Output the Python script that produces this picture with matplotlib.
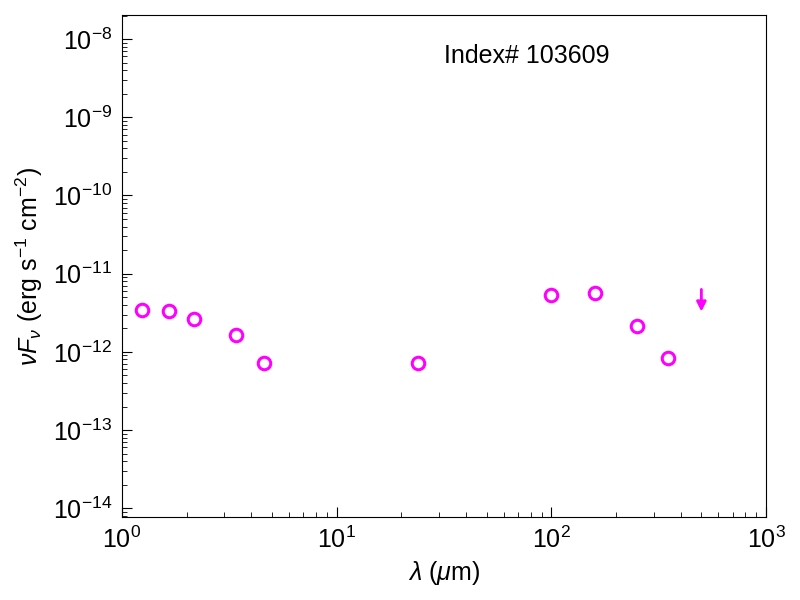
import numpy as np
import matplotlib
matplotlib.use("Agg")
import matplotlib.pyplot as plt
from matplotlib.ticker import LogLocator, NullFormatter

plt.rcParams["font.family"] = ["Liberation Sans", "DejaVu Sans"]
plt.rcParams["mathtext.fontset"] = "custom"
plt.rcParams["mathtext.rm"] = "Liberation Sans"
plt.rcParams["mathtext.it"] = "Liberation Sans:italic"
plt.rcParams["mathtext.bf"] = "Liberation Sans:bold"

# photometry (detections)
wave = [1.235, 1.662, 2.159, 3.4, 4.6, 24.0, 100.0, 160.0, 250.0, 350.0]
nufnu = [3.4e-12, 3.35e-12, 2.6e-12, 1.65e-12, 7.2e-13, 7.3e-13,
         5.4e-12, 5.7e-12, 2.15e-12, 8.3e-13]

# upper limit
wave_ul = [500.0]
nufnu_ul = [6.3e-12]

fig = plt.figure(figsize=(8, 6), dpi=100)
ax = fig.add_axes([0.1525, 0.138, 0.805, 0.837])

ax.plot(wave, nufnu, "o", mfc="none", mec="magenta", ms=9, mew=2.2)
for x, y in zip(wave_ul, nufnu_ul):
    ax.annotate("", xy=(x, y * 0.52), xytext=(x, y),
                arrowprops=dict(arrowstyle="-|>", color="magenta", lw=2,
                                mutation_scale=14, shrinkA=0, shrinkB=0))

ax.set_xscale("log")
ax.set_yscale("log")
ax.set_xlim(1, 1000)
ax.set_ylim(7.7e-15, 2.03e-8)
for axis in (ax.xaxis, ax.yaxis):
    axis.set_major_locator(LogLocator(base=10, numticks=20))
    axis.set_minor_locator(LogLocator(base=10, subs=np.arange(2, 10), numticks=100))
    axis.set_minor_formatter(NullFormatter())

ax.tick_params(which="both", direction="in", labelsize=18, pad=7)
ax.tick_params(which="major", length=7)
ax.tick_params(which="minor", length=3.5)

ax.set_xlabel(r"$\lambda$ ($\mu$m)", fontsize=18, labelpad=4)
ax.set_ylabel(r"$\nu F_\nu$ (erg s$^{-1}$ cm$^{-2}$)", fontsize=18, labelpad=6)
ax.text(0.629, 0.918, "Index# 103609", transform=ax.transAxes,
        ha="center", va="center", fontsize=18)

plt.savefig("out.png")
